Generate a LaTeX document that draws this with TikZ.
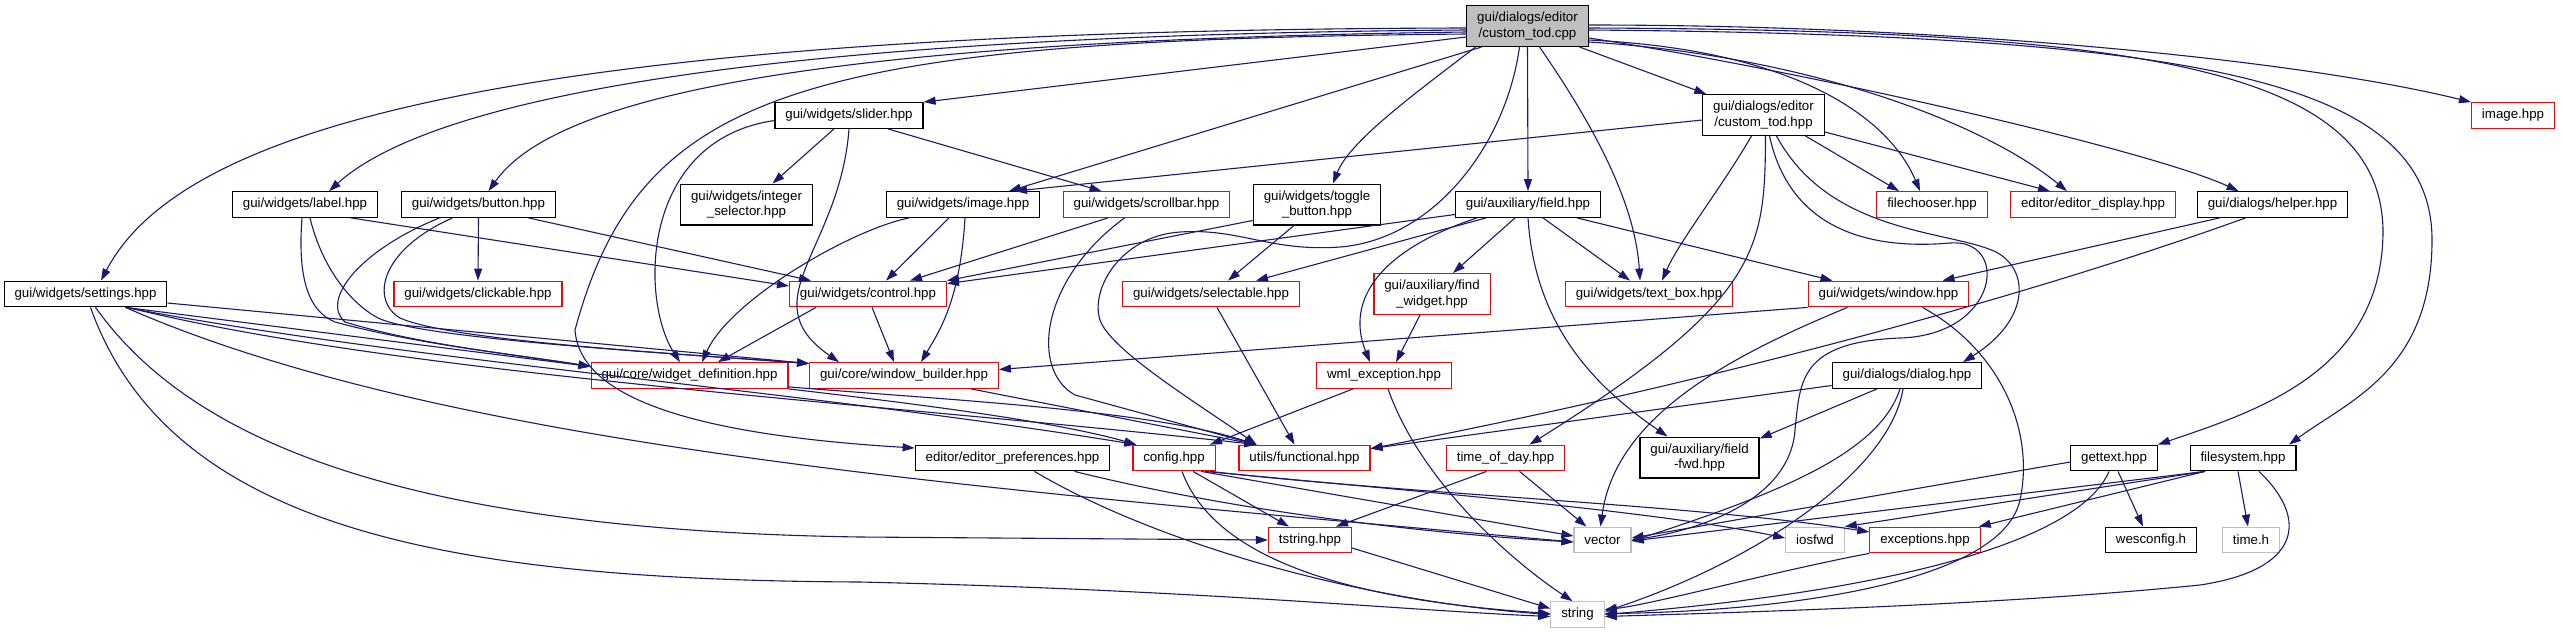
\documentclass[tikz,border=0pt]{standalone}
\usepackage{fontspec}
\setmainfont{Liberation Sans}
\usetikzlibrary{arrows.meta}
\definecolor{edgeblue}{RGB}{25,25,112}
\definecolor{grey75}{RGB}{191,191,191}

\begin{document}
\begin{tikzpicture}[
    x=0.5pt, y=-0.5pt,
    font=\fontsize{6.65}{7.6}\selectfont,
    file/.style={
        rectangle, draw=black, line width=0.6pt, fill=white,
        inner xsep=5.2pt, inner ysep=0pt, minimum height=12.8pt, align=center
    },
    twoline/.style={minimum height=20.4pt},
    truncated/.style={file, draw=red},
    external/.style={file, draw=grey75},
    rootfile/.style={file, twoline, fill=grey75},
    inc/.style={
        draw=edgeblue, line width=0.55pt, -{Triangle[length=6pt, width=4pt]}
    }
]
\useasboundingbox (0,0) rectangle (2563,633);

% Files
\node[rootfile] (root) at (1527.5,26) {gui/dialogs/editor\\/custom\_tod.cpp};
\node[file] (slider) at (849,115.5) {gui/widgets/slider.hpp};
\node[file, twoline] (todhpp) at (1763.5,115) {gui/dialogs/editor\\/custom\_tod.hpp};
\node[truncated] (imagehpp) at (2513,115.5) {image.hpp};
\node[file] (label) at (305,204.5) {gui/widgets/label.hpp};
\node[file] (button) at (478.5,204.5) {gui/widgets/button.hpp};
\node[file, twoline] (intsel) at (746.5,204.5) {gui/widgets/integer\\\_selector.hpp};
\node[file] (wimage) at (963,204.5) {gui/widgets/image.hpp};
\node[truncated] (scrollbar) at (1146.5,204.5) {gui/widgets/scrollbar.hpp};
\node[file, twoline] (toggle) at (1317,204.5) {gui/widgets/toggle\\\_button.hpp};
\node[file] (field) at (1528,204.5) {gui/auxiliary/field.hpp};
\node[truncated] (filechooser) at (1932,204.5) {filechooser.hpp};
\node[truncated] (edisplay) at (2093,204.5) {editor/editor\_display.hpp};
\node[file] (helper) at (2272.5,204.5) {gui/dialogs/helper.hpp};
\node[file] (settings) at (85.5,294) {gui/widgets/settings.hpp};
\node[truncated] (clickable) at (478,294) {gui/widgets/clickable.hpp};
\node[truncated] (control) at (868,294) {gui/widgets/control.hpp};
\node[truncated] (selectable) at (1211,294) {gui/widgets/selectable.hpp};
\node[truncated, twoline] (findwidget) at (1432,294) {gui/auxiliary/find\\\_widget.hpp};
\node[truncated] (textbox) at (1649,294) {gui/widgets/text\_box.hpp};
\node[truncated] (window) at (1888.5,294) {gui/widgets/window.hpp};
\node[truncated] (widgetdef) at (689.5,375.5) {gui/core/widget\_definition.hpp};
\node[truncated] (wbuilder) at (904,375.5) {gui/core/window\_builder.hpp};
\node[truncated] (wmlexc) at (1384,375.5) {wml\_exception.hpp};
\node[file] (dialog) at (1907,375.5) {gui/dialogs/dialog.hpp};
\node[file] (eprefs) at (1012.5,458) {editor/editor\_preferences.hpp};
\node[truncated] (config) at (1174,458) {config.hpp};
\node[truncated] (functional) at (1304.5,458) {utils/functional.hpp};
\node[truncated] (tod) at (1505.5,458) {time\_of\_day.hpp};
\node[file, twoline] (fieldfwd) at (1699.5,457.5) {gui/auxiliary/field\\-fwd.hpp};
\node[file] (gettext) at (2114,458) {gettext.hpp};
\node[file] (filesystem) at (2243,458) {filesystem.hpp};
\node[truncated] (tstring) at (1310,540) {tstring.hpp};
\node[external] (vector) at (1602.5,540) {vector};
\node[external] (iosfwd) at (1815,540) {iosfwd};
\node[truncated] (exceptions) at (1925,540) {exceptions.hpp};
\node[file] (wesconfig) at (2151,540) {wesconfig.h};
\node[external] (timeh) at (2251,540) {time.h};
\node[external] (string) at (1577.5,614.5) {string};

% custom_tod.cpp
\draw[inc] ([yshift=-1pt]root.west) .. controls (500,30) and (180,130) .. ([xshift=7.75pt]settings.north);
\draw[inc] ([yshift=-2pt]root.west) .. controls (750,35) and (430,100) .. ([xshift=12pt]label.north);
\draw[inc] ([yshift=-3pt]root.west) .. controls (850,40) and (560,90) .. ([xshift=5pt]button.north);
\draw[inc] ([yshift=-4pt]root.west) .. controls (800,40) and (640,90) .. (575,330) .. controls (580,400) and (700,435) .. ([yshift=5pt]eprefs.west);
\draw[inc] ([yshift=-5.5pt]root.west) -- (slider.north east);
\draw[inc] ([xshift=-23pt]root.south) -- ([xshift=23pt]wimage.north);
\draw[inc] ([xshift=-26pt]root.south) .. controls (1420,90) and (1350,140) .. ([xshift=8pt]toggle.north);
\draw[inc] ([xshift=-4pt]root.south) .. controls (1505,150) and (1430,240) .. (1340,247) .. controls (1270,252) and (1240,228) .. (1180,232) .. controls (1120,236) and (1090,290) .. (1100,320) .. controls (1110,350) and (1200,405) .. ([xshift=-24pt]functional.north);
\draw[inc] (root.south) -- (field.north);
\draw[inc] ([xshift=6pt]root.south) .. controls (1590,120) and (1635,200) .. ([xshift=-4.5pt]textbox.north);
\draw[inc] ([xshift=26pt]root.south) -- ([xshift=2pt]todhpp.north west);
\draw[inc] ([yshift=-7pt]root.east) .. controls (1800,50) and (1890,120) .. ([xshift=-6pt]filechooser.north);
\draw[inc] ([yshift=-8pt]root.east) .. controls (1800,55) and (1980,120) .. ([xshift=-13pt]edisplay.north);
\draw[inc] ([yshift=-6pt]root.east) .. controls (1800,70) and (2150,150) .. ([xshift=-17pt]helper.north);
\draw[inc] ([yshift=0.5pt]root.east) .. controls (1950,25) and (2300,60) .. (imagehpp.north west);
\draw[inc] ([yshift=-1pt]root.east) .. controls (2150,30) and (2380,70) .. (2383,230) .. controls (2383,370) and (2260,410) .. (gettext.north east);
\draw[inc] ([yshift=-2pt]root.east) .. controls (2200,35) and (2432,80) .. (2432,240) .. controls (2432,370) and (2350,400) .. ([xshift=23pt]filesystem.north);

% custom_tod.hpp
\draw[inc] ([yshift=-2.5pt]todhpp.west) -- ([xshift=26pt]wimage.north);
\draw[inc] ([xshift=-6pt]todhpp.south) .. controls (1720,190) and (1680,240) .. ([xshift=6.5pt]textbox.north);
\draw[inc] ([xshift=1pt]todhpp.south) .. controls (1765,250) and (1760,300) .. ([xshift=12pt]tod.north);
\draw[inc] ([xshift=3pt]todhpp.south) .. controls (1790,230) and (1870,250) .. (1950,243) .. controls (2010,238) and (2000,335) .. (1900,338) .. controls (1800,342) and (1800,380) .. (1795,430) .. controls (1790,500) and (1700,530) .. (vector.east);
\draw[inc] ([xshift=6.5pt]todhpp.south) .. controls (1830,235) and (1950,230) .. (1996,252) .. controls (2030,270) and (2030,320) .. ([xshift=28pt]dialog.north);
\draw[inc] ([xshift=21pt]todhpp.south) -- ([xshift=-16.5pt]filechooser.north);
\draw[inc] ([yshift=-8.5pt]todhpp.east) -- ([xshift=-21.5pt]edisplay.north);

% slider
\draw[inc] ([xshift=-7.5pt]slider.south) -- ([xshift=13pt]intsel.north);
\draw[inc] ([xshift=19.5pt]slider.south) -- ([xshift=-22.5pt]scrollbar.north);
\draw[inc] ([yshift=-2.5pt]slider.west) .. controls (640,140) and (640,300) .. ([xshift=-4.75pt]widgetdef.north);
\draw[inc] (slider.south) .. controls (840,250) and (750,300) .. ([xshift=-32.5pt]wbuilder.north);

% label, button
\draw[inc] ([xshift=23pt]label.south) -- ([yshift=4pt]control.west);
\draw[inc] ([xshift=-1.5pt]label.south) .. controls (298,270) and (305,310) .. (335,322) .. controls (420,345) and (520,355) .. ([yshift=4.5pt]widgetdef.west);
\draw[inc] ([xshift=2.5pt]label.south) .. controls (320,260) and (345,300) .. (378,318) .. controls (420,338) and (650,352) .. ([yshift=6pt]wbuilder.west);
\draw[inc] (button.south) -- (clickable.north);
\draw[inc] ([xshift=25pt]button.south) -- ([xshift=11pt]control.north west);
\draw[inc] ([xshift=-19.5pt]button.south) .. controls (360,250) and (320,300) .. (345,322) .. controls (420,345) and (520,355) .. ([yshift=4.5pt]widgetdef.west);
\draw[inc] ([xshift=-13pt]button.south) .. controls (380,250) and (370,300) .. (400,318) .. controls (450,340) and (650,352) .. ([yshift=6pt]wbuilder.west);

% image, scrollbar, toggle_button
\draw[inc] ([xshift=-7pt]wimage.south) -- ([xshift=9pt]control.north);
\draw[inc] ([xshift=-27pt]wimage.south) .. controls (850,230) and (730,300) .. ([xshift=6.25pt]widgetdef.north);
\draw[inc] ([xshift=1pt]wimage.south) .. controls (960,300) and (940,330) .. ([xshift=8.5pt]wbuilder.north);
\draw[inc] ([xshift=-19.25pt]scrollbar.south) -- ([xshift=21pt]control.north);
\draw[inc] ([xshift=-11pt]scrollbar.south) .. controls (1040,280) and (1030,370) .. (1075,395) -- ([xshift=-24pt]functional.north);
\draw[inc] ([yshift=-8pt]toggle.west) -- (control.north east);
\draw[inc] ([xshift=-11.5pt]toggle.south) -- ([xshift=8.5pt]selectable.north);

% field
\draw[inc] ([yshift=-5pt]field.west) -- ([yshift=-1.5pt]control.north east);
\draw[inc] ([xshift=-21pt]field.south) -- ([xshift=22.5pt]selectable.north);
\draw[inc] ([xshift=-6.5pt]field.south) -- ([xshift=10.5pt]findwidget.north);
\draw[inc] ([xshift=7.5pt]field.south) -- ([xshift=-9.5pt]textbox.north);
\draw[inc] ([xshift=24.5pt]field.south) -- ([xshift=-28pt]window.north);
\draw[inc] ([xshift=-25.5pt]field.south) .. controls (1380,250) and (1345,300) .. ([xshift=-7pt]wmlexc.north);
\draw[inc] (field.south) .. controls (1535,330) and (1600,390) .. ([xshift=-16pt]fieldfwd.north);

% helper
\draw[inc] ([xshift=-26.5pt]helper.south) -- ([xshift=27pt]window.north);
\draw[inc] ([xshift=-13.5pt]helper.south) .. controls (2060,285) and (1750,375) .. ([yshift=-2pt]functional.north east);

% settings
\draw[inc] ([yshift=-4.5pt]settings.east) -- ([yshift=6pt]wbuilder.west);
\draw[inc] ([xshift=20pt]settings.south) -- ([yshift=4.5pt]widgetdef.west);
\draw[inc] ([xshift=20pt]settings.south) .. controls (400,360) and (800,390) .. ([xshift=2pt]config.north west);
\draw[inc] ([xshift=21pt]settings.south) .. controls (400,375) and (900,405) .. ([xshift=-24pt]functional.north);
\draw[inc] ([xshift=20pt]settings.south) .. controls (450,450) and (1000,490) .. ([yshift=-1pt]vector.west);
\draw[inc] ([xshift=5pt]settings.south) .. controls (190,440) and (400,530) .. (860,537) -- (tstring.west);
\draw[inc] ([xshift=2.5pt]settings.south) .. controls (170,530) and (450,580) .. (860,582) .. controls (1200,590) and (1400,610) .. ([yshift=-1pt]string.west);

% gui/core
\draw[inc] (widgetdef.south east) .. controls (900,402) and (1050,420) .. ([xshift=2pt]config.north west);
\draw[inc] ([yshift=1pt]widgetdef.south east) .. controls (950,400) and (1150,410) .. ([xshift=-24pt]functional.north);
\draw[inc] ([xshift=-26pt]control.south) -- ([xshift=14.25pt]widgetdef.north);
\draw[inc] ([xshift=2pt]control.south) -- ([xshift=-5pt]wbuilder.north);
\draw[inc] ([xshift=33.5pt]wbuilder.south) -- ([xshift=-24pt]functional.north);
\draw[inc] ([xshift=3pt]selectable.south) -- ([xshift=-5pt]functional.north);
\draw[inc] ([xshift=-6pt]findwidget.south) -- ([xshift=6pt]wmlexc.north);

% window, dialog
\draw[inc] (window.south west) -- ([yshift=3pt]wbuilder.east);
\draw[inc] ([xshift=-20.5pt]window.south) .. controls (1720,360) and (1615,420) .. ([xshift=-1pt]vector.north);
\draw[inc] ([xshift=17pt]window.south) .. controls (2000,350) and (2035,430) .. (2020,500) .. controls (2000,590) and (1750,612) .. ([yshift=0.5pt]string.east);
\draw[inc] ([xshift=-15pt]dialog.south) -- ([yshift=-1pt]fieldfwd.north east);
\draw[inc] ([yshift=-5pt]dialog.west) -- ([yshift=-2pt]functional.north east);
\draw[inc] ([xshift=-3.5pt]dialog.south) .. controls (1880,450) and (1790,490) .. ([yshift=-0.5pt]vector.east);
\draw[inc] ([xshift=-2pt]dialog.south) .. controls (1890,470) and (1760,560) .. ([yshift=1.5pt]string.east);

% editor_preferences, config, wml_exception, time_of_day
\draw[inc] ([xshift=31pt]eprefs.south) .. controls (1250,515) and (1450,535) .. ([yshift=-1pt]vector.west);
\draw[inc] ([xshift=11pt]eprefs.south) .. controls (1150,540) and (1350,600) .. (string.west);
\draw[inc] ([xshift=9.5pt]config.south) -- ([xshift=-10.5pt]tstring.north);
\draw[inc] ([xshift=4pt]config.south) .. controls (1215,560) and (1350,600) .. ([yshift=0.5pt]string.west);
\draw[inc] ([xshift=13.5pt]config.south) -- ([yshift=2pt]vector.west);
\draw[inc] ([xshift=15.5pt]config.south) .. controls (1400,490) and (1650,510) .. ([yshift=1pt]iosfwd.west);
\draw[inc] ([xshift=18pt]config.south) .. controls (1420,495) and (1700,505) .. ([yshift=4pt]exceptions.west);
\draw[inc] ([xshift=-15.5pt]wmlexc.south) -- ([xshift=18pt]config.north);
\draw[inc] ([xshift=2pt]wmlexc.south) .. controls (1420,480) and (1510,560) .. ([xshift=-2.5pt]string.north);
\draw[inc] ([xshift=-9.5pt]tod.south) -- ([xshift=13pt]tstring.north);
\draw[inc] ([xshift=7pt]tod.south) -- ([xshift=-8pt]vector.north);
\draw[inc] ([yshift=-4pt]tstring.east) -- ([yshift=3pt]string.west);
\draw[inc] (exceptions.south west) .. controls (1780,570) and (1650,605) .. ([yshift=2.5pt]string.east);

% gettext, filesystem
\draw[inc] ([yshift=-2pt]gettext.west) -- ([yshift=1pt]vector.east);
\draw[inc] ([xshift=2pt]gettext.south) -- ([xshift=-4pt]wesconfig.north);
\draw[inc] ([xshift=-2.5pt]gettext.south) .. controls (2080,540) and (1900,590) .. (string.east);
\draw[inc] ([xshift=-19pt]filesystem.south) -- ([yshift=-0.5pt]vector.east);
\draw[inc] ([xshift=-19pt]filesystem.south) -- (iosfwd.north east);
\draw[inc] ([xshift=-19pt]filesystem.south) -- ([xshift=-1pt]exceptions.north east);
\draw[inc] ([xshift=-2.5pt]filesystem.south) -- ([xshift=-1.5pt]timeh.north);
\draw[inc] ([xshift=8pt]filesystem.south) .. controls (2310,520) and (2300,570) .. (2200,585) .. controls (2000,605) and (1750,612) .. ([yshift=-1pt]string.east);

\end{tikzpicture}
\end{document}
